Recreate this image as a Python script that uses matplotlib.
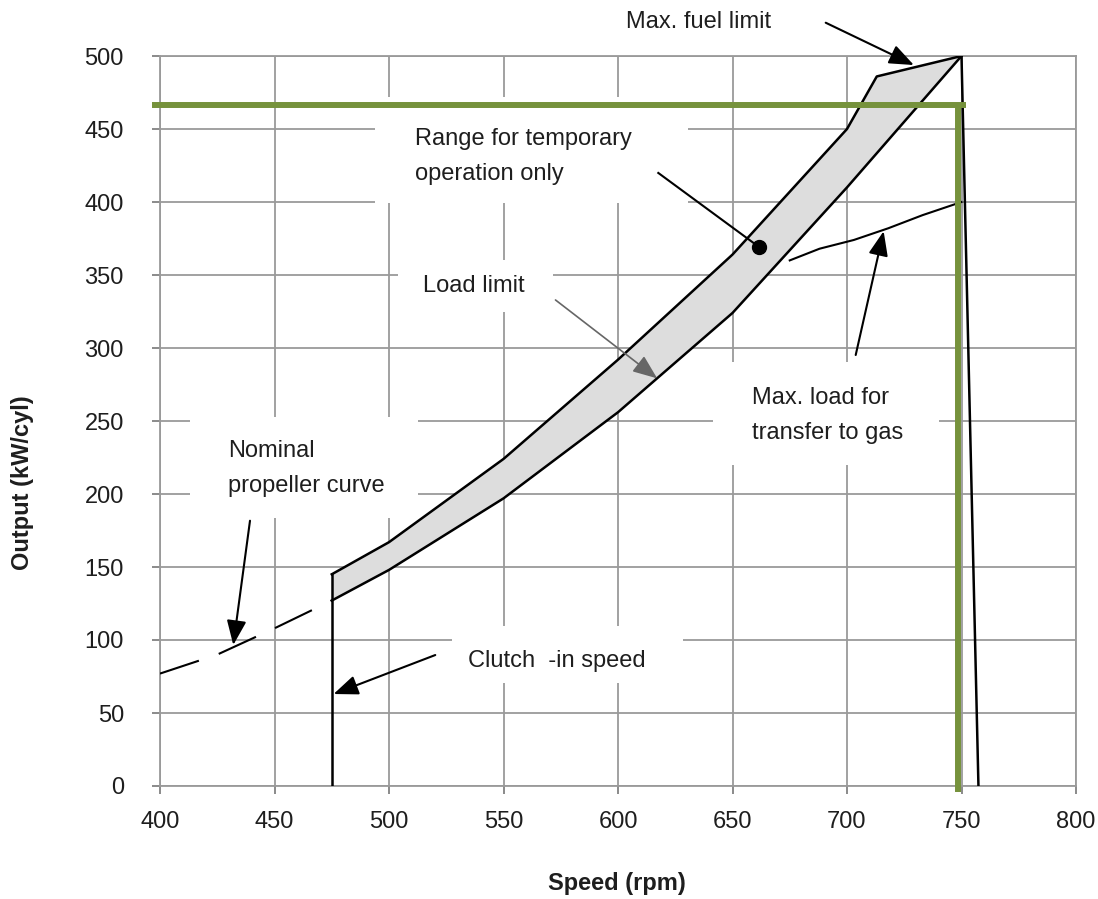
import matplotlib
matplotlib.use("Agg")
import matplotlib.pyplot as plt
from matplotlib.patches import Rectangle
import numpy as np

plt.rcParams['font.family'] = ['Liberation Sans', 'DejaVu Sans']
plt.rcParams['lines.scale_dashes'] = False

# ---- data ----
upper_speed = [475, 500, 550, 600, 650, 700, 713, 750]
upper_load = [145, 167, 224, 292, 364, 450, 486, 500]
lower_speed = [475, 500, 550, 600, 650, 700, 750]
lower_load = [127, 148, 197, 256, 324, 410, 500]
prop_speed = [400, 425, 450, 475]
prop_load = [77, 90, 108, 127]
gas_speed = [675, 688, 703, 718, 733, 750]
gas_load = [360, 368, 374, 382, 391, 400]
clutch_speed = 475
max_speed_line = [750, 757.4]
max_speed_load = [500, 0]
green_speed = 748.3
green_load = 466.4
x_ticks = [400, 450, 500, 550, 600, 650, 700, 750, 800]
y_ticks = [0, 50, 100, 150, 200, 250, 300, 350, 400, 450, 500]

FS = 17
TXT = '#1e1e1e'
GRID = '#9a9a9a'

fig = plt.figure(figsize=(10.98, 8.99), dpi=100)
ax = fig.add_axes([160/1098, 1-786/899, 916/1098, 730/899])
ax.set_xlim(400, 800)
ax.set_ylim(0, 500)
ax.set_xticks(x_ticks)
ax.set_yticks(y_ticks)
ax.set_axisbelow(True)
ax.grid(True, color=GRID, lw=1.3)
for s in ax.spines.values():
    s.set_color(GRID)
    s.set_linewidth(1.3)
ax.tick_params(axis='both', direction='out', length=6, width=1.2, color='#777777',
               labelsize=FS, labelcolor=TXT)
ax.tick_params(axis='y', pad=20)
ax.tick_params(axis='x', pad=12)

ax.set_xlabel('Speed (rpm)', fontsize=FS, fontweight='bold', color=TXT)
ax.xaxis.label.set_va('center')
ax.xaxis.set_label_coords(0.499, -0.133)
ax.set_ylabel('Output (kW/cyl)', fontsize=FS, fontweight='bold', color=TXT)
ax.yaxis.label.set_va('center')
ax.yaxis.set_label_coords(-0.1496, 0.415)

# white text boxes that hide the grid
boxes = [
    (494.0, 399.3, 630.4, 471.9),
    (504.0, 324.7, 571.4, 360.3),
    (413.1, 183.6, 512.8, 252.7),
    (641.3, 219.9, 740.1, 290.4),
    (527.7, 70.5, 628.6, 109.6),
]
for x0, y0, x1, y1 in boxes:
    ax.add_patch(Rectangle((x0, y0), x1-x0, y1-y0, facecolor='white',
                           edgecolor='none', zorder=1))

# band
bx = np.concatenate([upper_speed, lower_speed[::-1]])
by = np.concatenate([upper_load, lower_load[::-1]])
ax.fill(bx, by, color='#dddddd', zorder=2, lw=0)
LW = 1.8
ax.plot(upper_speed, upper_load, color='black', lw=LW, zorder=3)
ax.plot(lower_speed, lower_load, color='black', lw=LW, zorder=3)
ax.plot([clutch_speed, clutch_speed], [0, upper_load[0]], color='black', lw=LW, zorder=3)
ax.plot(max_speed_line, max_speed_load, color='black', lw=LW, zorder=3)
ax.plot(gas_speed, gas_load, color='black', lw=1.5, zorder=3)
ax.plot(prop_speed, prop_load, color='black', lw=1.5, zorder=3, dashes=(29.5, 15.1))

# green lines
GREEN = '#76923c'
ax.plot([396.5, 751.9], [green_load, green_load], color=GREEN, lw=4.3, zorder=5,
        clip_on=False, solid_capstyle='butt')
ax.plot([green_speed, green_speed], [-4.3, green_load + 1.5], color=GREEN, lw=4.3, zorder=5,
        clip_on=False, solid_capstyle='butt')

# texts
def t(x, y, s):
    ax.text(x, y, s, fontsize=FS, color=TXT, ha='left', va='baseline', zorder=6,
            clip_on=False)

t(603.3, 519, 'Max. fuel limit')
t(511.5, 439.0, 'Range for temporary')
t(511.5, 415.1, 'operation only')
t(515.0, 338.6, 'Load limit')
t(429.7, 225.1, 'Nominal')
t(429.7, 201.6, 'propeller curve')
t(658.4, 261.6, 'Max. load for')
t(658.4, 237.5, 'transfer to gas')
t(534.6, 81.7, 'Clutch  -in speed')

# arrows
def arrow(x0, y0, x1, y1, lc='black', lw=1.5):
    ax.annotate('', xy=(x1, y1), xytext=(x0, y0), annotation_clip=False, zorder=6,
                arrowprops=dict(arrowstyle='-|>,head_length=0.75,head_width=0.3',
                                mutation_scale=20, color=lc, lw=lw,
                                shrinkA=0, shrinkB=0))

arrow(690.7, 522.8, 729.2, 493.8)
arrow(572.7, 332.9, 617.1, 279.2, lc='#666666', lw=1.2)
arrow(439.3, 181.7, 432.0, 96.6)
arrow(520.2, 89.7, 475.8, 63.0)
arrow(703.8, 295.2, 716.0, 380.0)
ax.plot([617.6, 661.4], [419.9, 369.4], color='black', lw=1.5, zorder=6)
ax.plot([661.4], [369.4], 'o', color='black', ms=10, zorder=6)

fig.savefig('out.png', dpi=100, facecolor='white')
